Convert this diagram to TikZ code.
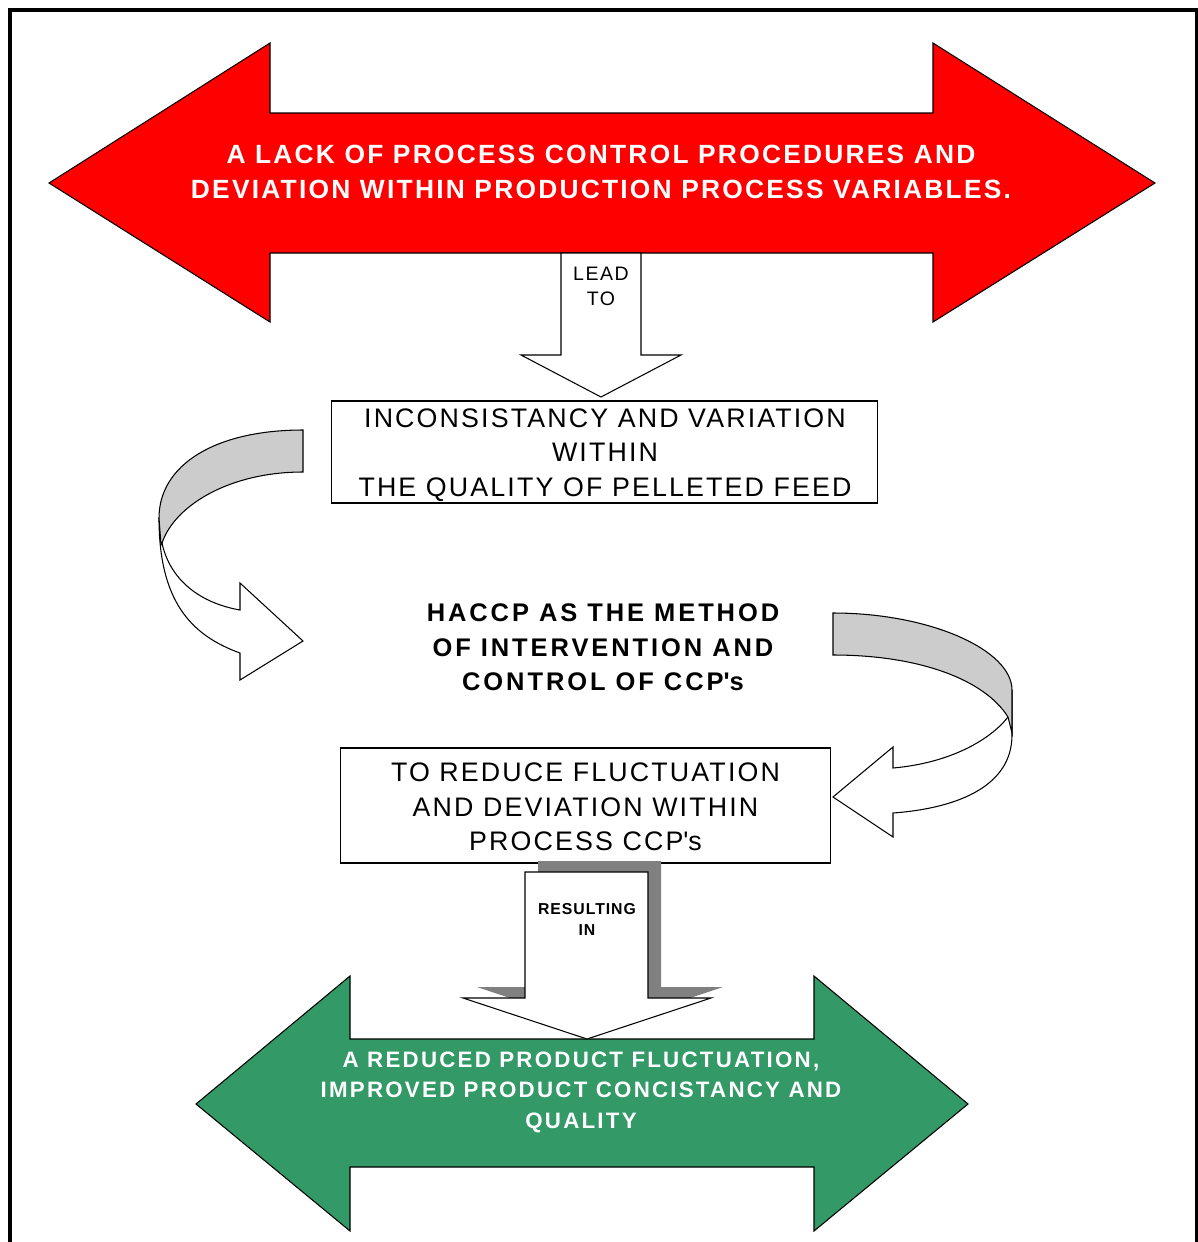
\documentclass[tikz,border=0pt]{standalone}
\usepackage{fontspec}
\setmainfont{Liberation Sans}
\definecolor{alarmred}{HTML}{FF0000}
\definecolor{goodgreen}{HTML}{339966}
\definecolor{bandgray}{HTML}{CCCCCC}
\definecolor{shadowgray}{HTML}{808080}
\begin{document}
\begin{tikzpicture}[x=0.02cm,y=-0.02cm,
  outline/.style={draw=black,line width=0.6pt,line join=miter},
  frameline/.style={draw=black,line width=1.8pt},
  plainbox/.style={outline,fill=white,inner sep=0pt},
  redtext/.style={text=white,inner sep=0pt,align=center,
    font=\fontsize{15}{19.9}\selectfont\bfseries\addfontfeatures{LetterSpace=8.5}},
  greentext/.style={text=white,inner sep=0pt,align=center,
    font=\fontsize{12.7}{17.4}\selectfont\bfseries\addfontfeatures{LetterSpace=10}},
  boxtext/.style={inner sep=0pt,align=center,
    font=\fontsize{15.25}{19.6}\selectfont\addfontfeatures{LetterSpace=8}},
  boldtext/.style={inner sep=0pt,align=center,
    font=\fontsize{14.5}{19.6}\selectfont\bfseries\addfontfeatures{LetterSpace=11.5}},
  leadtext/.style={inner sep=0pt,align=center,
    font=\fontsize{11.1}{14.2}\selectfont\addfontfeatures{LetterSpace=8}},
  smalltext/.style={inner sep=0pt,align=center,
    font=\fontsize{9}{12}\selectfont\bfseries\addfontfeatures{LetterSpace=6}}
]
\useasboundingbox (0,0) rectangle (1198,1242);

% page frame, open at the bottom
\draw[frameline] (10,1242) -- (10,10) -- (1196.5,10) -- (1196.5,1242);

% top double arrow (problem statement)
\draw[outline,fill=alarmred] (49,183) -- (270,43) -- (270,113) -- (933,113) -- (933,43)
  -- (1155,183) -- (933,322) -- (933,253) -- (270,253) -- (270,322) -- cycle;
\node[redtext] (problem) at (601,171.5)
  {A LACK OF PROCESS CONTROL PROCEDURES AND\\DEVIATION WITHIN PRODUCTION PROCESS VARIABLES.};

% "lead to" block arrow
\draw[outline,fill=white] (561,253) -- (561,355) -- (521,355) -- (601,397) -- (681,355)
  -- (641,355) -- (641,253) -- cycle;
\node[leadtext] (lead) at (601,286.5) {LEAD\\TO};

% consequence box
\node[plainbox,minimum width=10.94cm,minimum height=2.04cm] (quality) at (604.5,452) {};
\node[boxtext] (qualitytext) at (605,455)
  {INCONSISTANCY AND VARIATION\\WITHIN\\THE QUALITY OF PELLETED FEED};

% left curved ribbon arrow: front face, then back face on top
\draw[outline,fill=white] (159,518) .. controls (159,600) and (190,635) .. (240,653)
  -- (240,680) -- (303,641) -- (240,583) -- (240,610)
  .. controls (200,603) and (170,580) .. (162,543) -- cycle;
\draw[outline,fill=bandgray] (303,430) .. controls (215,430) and (159,465) .. (159,518)
  -- (161,545) -- (162,543) .. controls (175,505) and (230,472) .. (303,472) -- cycle;

% method statement
\node[boldtext] (haccp) at (603,647.5)
  {HACCP AS THE METHOD\\OF INTERVENTION AND\\CONTROL OF CCP\textquotesingle s};

% right curved ribbon arrow: front face, then back face on top
\draw[outline,fill=white] (1012,690) -- (1012,735) .. controls (1012,785) and (960,808) .. (893,813)
  -- (893,837) -- (833,797) -- (893,747) -- (893,768)
  .. controls (950,763) and (990,740) .. (1008,717) -- cycle;
\draw[outline,fill=bandgray] (833,613) .. controls (930,613) and (1012,650) .. (1012,690)
  -- (1012,733) -- (1008,717) .. controls (985,680) and (920,655) .. (833,655) -- cycle;

% aim box
\node[plainbox,minimum width=9.82cm,minimum height=2.3cm] (aim) at (585.5,805.5) {};
\node[boxtext] (aimtext) at (585.5,807)
  {TO REDUCE FLUCTUATION\\AND DEVIATION WITHIN\\PROCESS CCP\textquotesingle s};

% bottom double arrow (outcome)
\draw[outline,fill=goodgreen] (196,1104) -- (350,976) -- (350,1039) -- (814,1039) -- (814,976)
  -- (968,1104) -- (814,1231) -- (814,1167) -- (350,1167) -- (350,1231) -- cycle;
\node[greentext] (outcome) at (581,1092)
  {A REDUCED PRODUCT FLUCTUATION,\\IMPROVED PRODUCT CONCISTANCY AND\\QUALITY};

% "resulting in" block arrow with drop shadow
\fill[shadowgray] (538,861) -- (661,861) -- (661,987) -- (723,987) -- (600,1028)
  -- (477,987) -- (538,987) -- cycle;
\draw[outline,fill=white] (525,872) -- (648,872) -- (648,998) -- (711,998) -- (587,1039)
  -- (463,998) -- (525,998) -- cycle;
\node[smalltext] (result) at (587,919.5) {RESULTING\\IN};
\end{tikzpicture}
\end{document}
